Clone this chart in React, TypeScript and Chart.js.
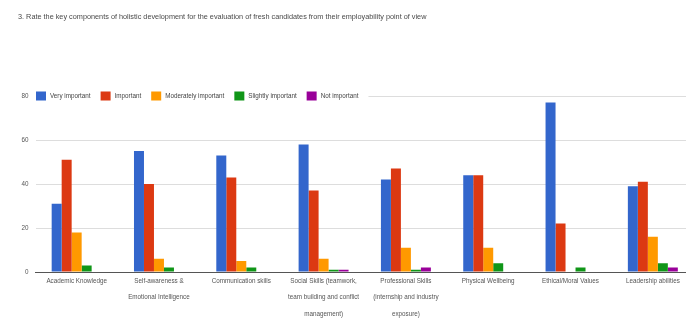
import { useEffect, useRef } from "react";
import { Chart, registerables } from "chart.js";

Chart.register(...registerables);

const chartTitle =
  "3. Rate the key components of holistic development for the evaluation of fresh candidates from their employability point of view";

const categories: string[][] = [
  ["Academic Knowledge"],
  ["Self-awareness &", "Emotional Intelligence"],
  ["Communication skills"],
  ["Social Skills (teamwork,", "team building and conflict", "management)"],
  ["Professional Skills", "(internship and industry", "exposure)"],
  ["Physical Wellbeing"],
  ["Ethical/Moral Values"],
  ["Leadership abilities"],
];

const veryImportant = [31, 55, 53, 58, 42, 44, 77, 39];
const important = [51, 40, 43, 37, 47, 44, 22, 41];
const moderatelyImportant = [18, 6, 5, 6, 11, 11, 0, 16];
const slightlyImportant = [3, 2, 2, 1, 1, 4, 2, 4];
const notImportant = [0, 0, 0, 1, 2, 0, 0, 2];

const seriesNames = [
  "Very important",
  "Important",
  "Moderately important",
  "Slightly important",
  "Not important",
];
const seriesValues = [
  veryImportant,
  important,
  moderatelyImportant,
  slightlyImportant,
  notImportant,
];
const seriesColors = ["#3366cc", "#dc3912", "#ff9900", "#109618", "#990099"];

const yMin = 0;
const yMax = 80;
const yStep = 20;

const FONT = "'Liberation Sans', Arial, sans-serif";
const TEXT_SIZE = 6.3;

// Title and inline legend row, drawn over the top gridline like the source chart
const headerPlugin = {
  id: "header",
  afterDraw(chart: Chart) {
    const { ctx, chartArea } = chart;
    ctx.save();
    ctx.font = `7.3px ${FONT}`;
    ctx.fillStyle = "#4a4a4a";
    ctx.textBaseline = "middle";
    ctx.textAlign = "left";
    ctx.fillText(chartTitle, 18, 17);

    ctx.font = `${TEXT_SIZE}px ${FONT}`;
    const cy = chartArea.top;
    let x = 36;
    const items = seriesNames.map((name) => {
      const w = ctx.measureText(name).width;
      const item = { name, x, w };
      x += 14 + w + 10;
      return item;
    });
    ctx.fillStyle = "#ffffff";
    ctx.fillRect(33, cy - 6, x - 33, 12);
    items.forEach((it, i) => {
      ctx.fillStyle = seriesColors[i];
      ctx.fillRect(it.x, cy - 4.5, 10, 9);
      ctx.fillStyle = "#444";
      ctx.fillText(it.name, it.x + 14, cy);
    });
    ctx.restore();
  },
};

function BarChart() {
  const canvasRef = useRef<HTMLCanvasElement | null>(null);

  useEffect(() => {
    document.body.style.margin = "0";
    document.body.style.overflow = "hidden";
    const canvas = canvasRef.current;
    if (!canvas) return;
    const chart = new Chart(canvas, {
      type: "bar",
      data: {
        labels: categories,
        datasets: seriesNames.map((name, i) => ({
          label: name,
          data: seriesValues[i],
          backgroundColor: seriesColors[i],
          borderWidth: 0,
          categoryPercentage: 0.607,
          barPercentage: 1.0,
        })),
      },
      options: {
        responsive: false,
        animation: false,
        layout: { padding: { top: 96, right: 6, bottom: 0, left: 0 } },
        plugins: {
          legend: { display: false },
          title: { display: false },
          tooltip: { enabled: false },
        },
        scales: {
          x: {
            grid: { display: false, drawTicks: false },
            border: { display: true, color: "#555" },
            ticks: {
              color: "#555",
              font: { family: FONT, size: TEXT_SIZE, lineHeight: 2.6 },
              padding: 1,
              maxRotation: 0,
              autoSkip: false,
            },
            afterFit: (scale: any) => {
              scale.height = 48;
            },
          },
          y: {
            min: yMin,
            max: yMax,
            ticks: {
              stepSize: yStep,
              color: "#555",
              font: { family: FONT, size: TEXT_SIZE },
              padding: 7,
            },
            grid: {
              drawTicks: false,
              color: (c: any) => (c.tick && c.tick.value === 0 ? "#555" : "#dddddd"),
              lineWidth: 1,
            },
            border: { display: false },
            afterFit: (scale: any) => {
              scale.width = 35.5;
            },
          },
        },
      },
      plugins: [headerPlugin],
    });
    return () => chart.destroy();
  }, []);

  return (
    <div style={{ width: 700, height: 320, background: "#fff" }}>
      <canvas ref={canvasRef} width={700} height={320} />
    </div>
  );
}

export default function App() {
  return <BarChart />;
}
